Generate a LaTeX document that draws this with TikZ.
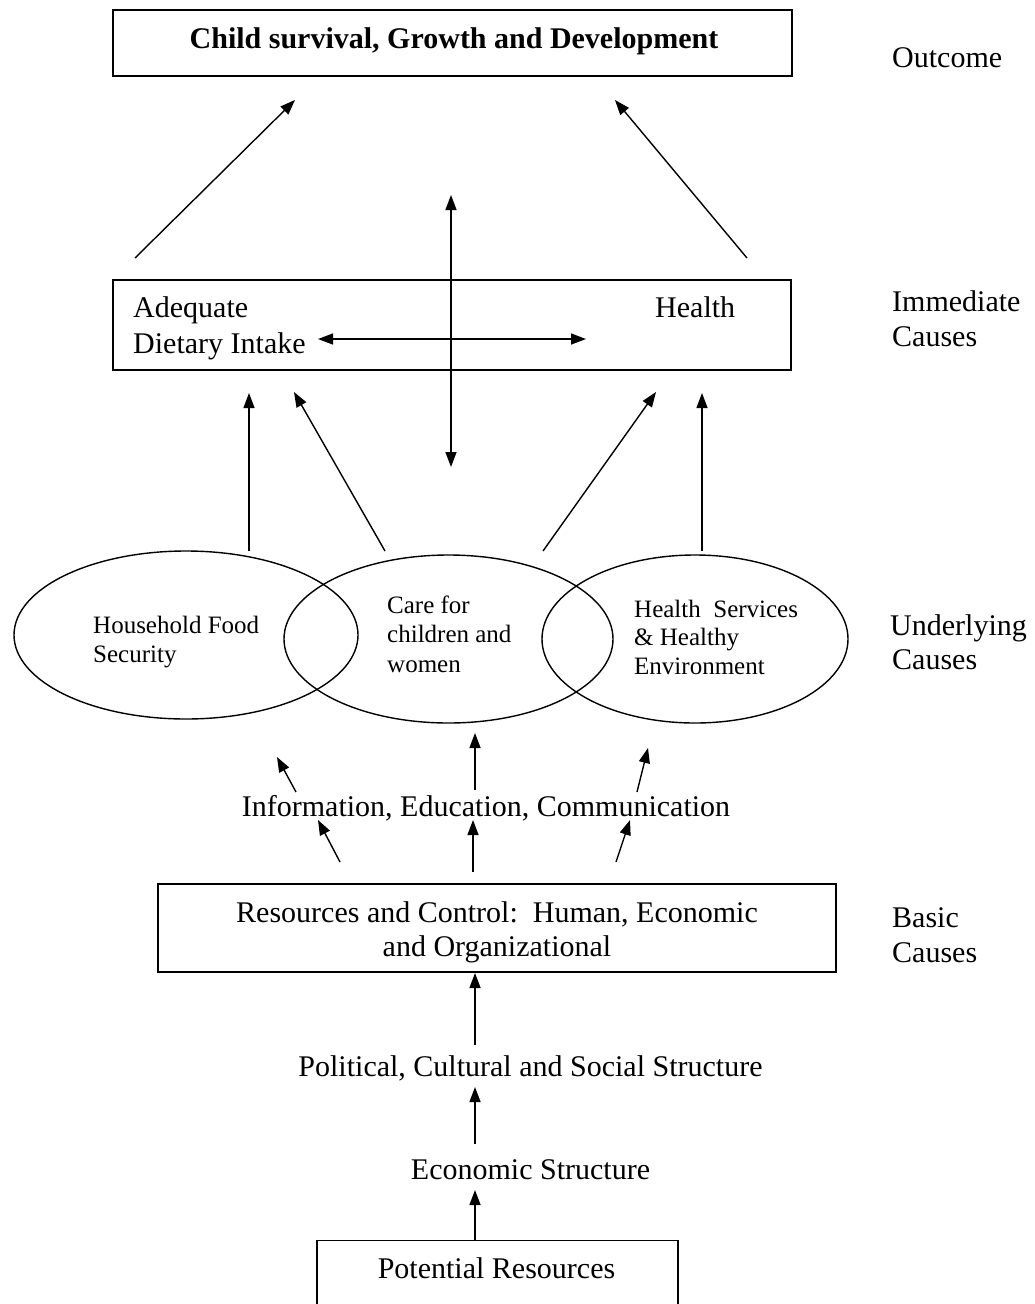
\documentclass[tikz,border=0pt]{standalone}
\usepackage{fontspec}
\setmainfont{Liberation Serif}
\usetikzlibrary{arrows.meta,shapes.geometric}
\begin{document}
\begin{tikzpicture}[x=1pt,y=-1pt,
  box/.style={draw,line width=1.4pt,inner sep=0pt},
  txt/.style={inner sep=0pt,font=\fontsize{30}{36}\selectfont},
  stxt/.style={inner sep=0pt,font=\fontsize{25}{29}\selectfont},
  oval/.style={draw,ellipse,line width=1.4pt,inner sep=0pt},
  arr/.style={line width=1.4pt,-{Triangle[length=15pt,width=11pt]}},
  darr/.style={line width=1.4pt,{Triangle[length=15pt,width=11pt]}-{Triangle[length=15pt,width=11pt]}}]
\useasboundingbox (0,0) rectangle (1034,1304);

% outcome
\node[box,minimum width=679pt,minimum height=66pt] (outbox) at (452.5,43) {};
\node[inner sep=0pt,anchor=base,font=\bfseries\fontsize{30}{36}\selectfont] (title) at (454,48) {Child survival, Growth and Development};
\node[txt,anchor=base west] (outcome) at (892,67) {Outcome};

% immediate
\node[box,minimum width=678pt,minimum height=90pt] (immbox) at (452,325) {};
\node[txt,anchor=base west] (adeq) at (133,317) {Adequate};
\node[txt,anchor=base west] (diet) at (133,353) {Dietary Intake};
\node[txt,anchor=base west] (health) at (655,317) {Health};
\node[txt,anchor=base west] (imm1) at (892,311) {Immediate};
\node[txt,anchor=base west] (imm2) at (892,346) {Causes};

\coordinate (h1) at (318,339); \coordinate (h2) at (586,339);
\draw[darr] (h1) -- (h2);
\coordinate (v1) at (451,195); \coordinate (v2) at (451,467);
\draw[darr] (v1) -- (v2);

\coordinate (u1s) at (135,258); \coordinate (u1e) at (295,100);
\draw[arr] (u1s) -- (u1e);
\coordinate (u2s) at (747,258); \coordinate (u2e) at (615,100);
\draw[arr] (u2s) -- (u2e);

% underlying
\node[oval,minimum width=344pt,minimum height=168pt] (hfs) at (186,635) {};
\node[oval,minimum width=329pt,minimum height=168pt] (care) at (448.5,639) {};
\node[oval,minimum width=306pt,minimum height=168pt] (hse) at (695,639) {};
\node[stxt,anchor=base west] (hfs1) at (93,633) {Household Food};
\node[stxt,anchor=base west] (hfs2) at (93,662) {Security};
\node[stxt,anchor=base west] (care1) at (387,613) {Care for};
\node[stxt,anchor=base west] (care2) at (387,642) {children and};
\node[stxt,anchor=base west] (care3) at (387,672) {women};
\node[stxt,anchor=base west] (hse1) at (634,617) {Health\ \ Services};
\node[stxt,anchor=base west] (hse2) at (634,645) {\& Healthy};
\node[stxt,anchor=base west] (hse3) at (634,674) {Environment};
\node[txt,anchor=base west] (und1) at (890,635) {Underlying};
\node[txt,anchor=base west] (und2) at (892,669) {Causes};

\coordinate (i1s) at (249,551); \coordinate (i1e) at (249,393);
\coordinate (i2s) at (385,551); \coordinate (i2e) at (294,392);
\coordinate (i3s) at (543,551); \coordinate (i3e) at (656,392);
\coordinate (i4s) at (702,551); \coordinate (i4e) at (702,393);
\foreach \n in {1,2,3,4} \draw[arr] (i\n s) -- (i\n e);

% IEC
\node[txt,anchor=base] (iec) at (486,816) {Information, Education, Communication};
\coordinate (a1s) at (296,792); \coordinate (a1e) at (277,757);
\coordinate (a2s) at (475,790); \coordinate (a2e) at (475,733);
\coordinate (a3s) at (637,792); \coordinate (a3e) at (648,748);
\coordinate (b1s) at (340,862); \coordinate (b1e) at (318,820);
\coordinate (b2s) at (473,872); \coordinate (b2e) at (473,820);
\coordinate (b3s) at (616,862); \coordinate (b3e) at (630,820);
\foreach \n in {a1,a2,a3,b1,b2,b3} \draw[arr] (\n s) -- (\n e);

% basic
\node[box,minimum width=678pt,minimum height=88pt] (resbox) at (497,928) {};
\node[txt,anchor=base] (res1) at (497,922) {Resources and Control:\ \ Human, Economic};
\node[txt,anchor=base] (res2) at (497,956) {and Organizational};
\node[txt,anchor=base west] (bas1) at (892,927) {Basic};
\node[txt,anchor=base west] (bas2) at (892,962) {Causes};

\node[txt,anchor=base] (pol) at (530.5,1076) {Political, Cultural and Social Structure};
\node[txt,anchor=base] (eco) at (530.5,1179) {Economic Structure};
\node[box,minimum width=361pt,minimum height=110pt,anchor=north] (potbox) at (497.5,1240) {};
\node[txt,anchor=base] (pot) at (496.5,1278) {Potential Resources};

\coordinate (c1s) at (475,1045); \coordinate (c1e) at (475,973);
\coordinate (c2s) at (475,1144); \coordinate (c2e) at (475,1087);
\draw[arr] (c1s) -- (c1e);
\draw[arr] (c2s) -- (c2e);
\draw[arr] (potbox.north -| c2s) -- (475,1190);
\end{tikzpicture}
\end{document}
